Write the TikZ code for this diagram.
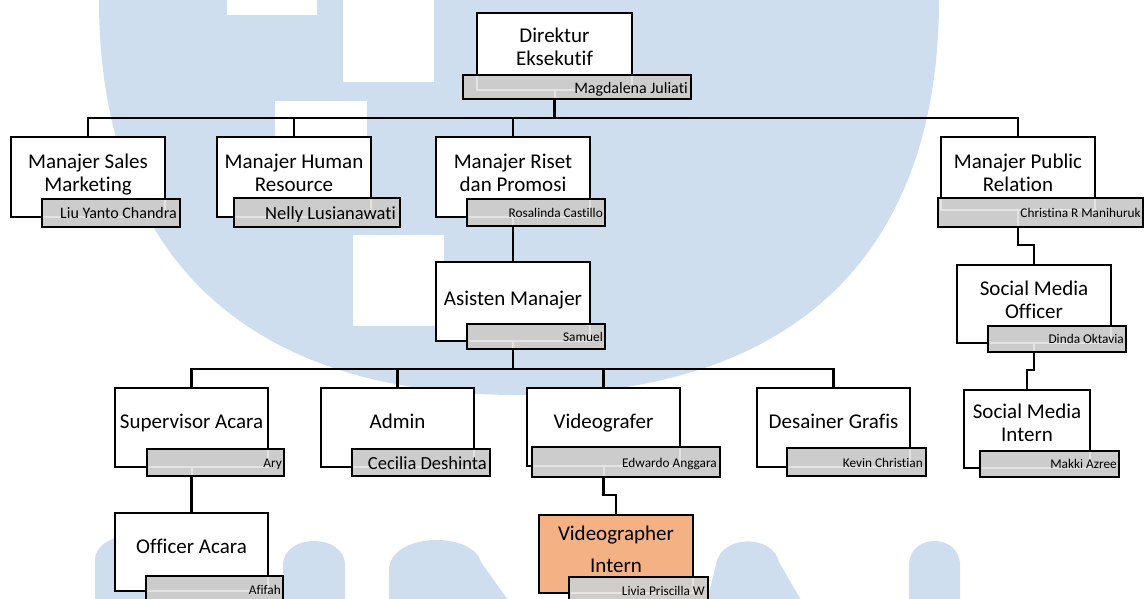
\documentclass[tikz,border=0pt]{standalone}
\usepackage{fontspec}
\setmainfont{Carlito}[Ligatures={NoCommon,NoRare,NoContextual}]
\definecolor{wm}{RGB}{207,222,238}
\definecolor{gbx}{RGB}{204,204,204}
\definecolor{gbxw}{RGB}{209,205,203}
\definecolor{org}{RGB}{244,177,131}
\tikzset{
  wbox/.style={draw=black, fill=white, line width=2.4pt, inner sep=0pt, outer sep=0pt},
  gbox/.style={draw=black, fill=gbx, line width=2.4pt, inner sep=0pt, outer sep=0pt},
  sz/.style 2 args={minimum width=#1pt, minimum height=#2pt},
  ttl/.style={font=\fontsize{21}{23}\selectfont, inner sep=0pt, anchor=base},
  nm/.style={font=\fontsize{13.3}{15}\selectfont, inner sep=0pt, anchor=base east},
  nmbig/.style={font=\fontsize{18.5}{20}\selectfont, inner sep=0pt, anchor=base east},
  nmmid/.style={font=\fontsize{16}{18}\selectfont, inner sep=0pt, anchor=base east},
  conn/.style={line width=2.4pt, line join=miter},
  ghl/.style={draw=white, draw opacity=0.45, line width=2pt}
}
\newcommand\ghost[2]{\begin{scope}\clip ([xshift=1.6pt,yshift=1.6pt]#1.south west) rectangle ([xshift=-1.6pt,yshift=-1.6pt]#1.north east); \draw[ghl] #2; \end{scope}}
\begin{document}
\begin{tikzpicture}[x=1pt,y=-1pt]
\useasboundingbox (0,0) rectangle (1147,598);
\clip (0,0) rectangle (1147,598);
% watermark
\fill[wm] (99,-2) -- (99,0) .. controls (99,230) and (219,395) .. (519,395) .. controls (819,395) and (939,230) .. (939,0) -- (939,-2) -- cycle;
\fill[white] (227,0) rectangle (317,15);
\fill[white] (343,0) rectangle (434,82);
\fill[white] (275,101) rectangle (367,205);
\fill[white] (353,235) rectangle (444,326);
\fill[wm] (95,600) -- (95,560) .. controls (95,528) and (175,524) .. (175,555) -- (175,600) -- cycle;
\fill[wm] (283,600) -- (283,565) .. controls (283,533) and (345,533) .. (345,565) -- (345,600) -- cycle;
\fill[wm] (389,600) -- (389,570) .. controls (389,533) and (472,530) .. (481,562) -- (508,600) -- cycle;
\fill[wm] (707,600) -- (716,565) .. controls (720,534) and (773,534) .. (779,562) -- (801,600) -- cycle;
\fill[wm] (909,600) -- (909,565) .. controls (909,533) and (960,533) .. (960,565) -- (960,600) -- cycle;

% coordinates
\coordinate (bus1) at (554.5,118);
\coordinate (bus2) at (513,369);
\coordinate (vElbow) at (603.5,495);
\coordinate (prElbow) at (1018,245);
\coordinate (smoElbow) at (1034,370);

% white boxes (named)
\path
  node[wbox, sz={155}{77}] (dir) at (554.5,51.5) {}
  node[wbox, sz={154}{80}] (sales) at (88,177) {}
  node[wbox, sz={154}{80}] (human) at (294,177) {}
  node[wbox, sz={154}{80}] (riset) at (513,177) {}
  node[wbox, sz={154}{73}] (pr) at (1018,173.5) {}
  node[wbox, sz={154}{79}] (asisten) at (513,301.5) {}
  node[wbox, sz={154}{78}] (smo) at (1034,304) {}
  node[wbox, sz={126}{78}] (smi) at (1027,429) {}
  node[wbox, sz={153}{79}] (sup) at (191.5,427.5) {}
  node[wbox, sz={153}{79}] (admin) at (397.5,427.5) {}
  node[wbox, sz={153}{78}] (video) at (603.5,427) {}
  node[wbox, sz={153}{79}] (des) at (833.5,427.5) {}
  node[wbox, sz={153}{78}] (officer) at (191.5,552) {}
  node[wbox, sz={154}{78}, fill=org] (intern) at (616,554) {};

% connectors
\draw[conn] (dir.south) -- (bus1);
\draw[conn] (sales.north) -- (sales.north |- bus1) -- (pr.north |- bus1) -- (pr.north);
\draw[conn] (human.north) -- (human.north |- bus1);
\draw[conn] (riset.north) -- (riset.north |- bus1);
\draw[conn] (riset.south) -- (asisten.north);
\draw[conn] (asisten.south) -- (bus2);
\draw[conn] (sup.north) -- (sup.north |- bus2) -- (des.north |- bus2) -- (des.north);
\draw[conn] (admin.north) -- (admin.north |- bus2);
\draw[conn] (video.north) -- (video.north |- bus2);
\draw[conn] (sup.south) -- (officer.north);
\draw[conn] (video.south) -- (vElbow) -| (intern.north);
\draw[conn] (pr.south) -- (prElbow) -| (smo.north);
\draw[conn] (smo.south) -- (smoElbow) -| (smi.north);

% redraw white boxes on top of connectors
\path
  node[wbox, sz={155}{77}] at (554.5,51.5) {}
  node[wbox, sz={154}{80}] at (88,177) {}
  node[wbox, sz={154}{80}] at (294,177) {}
  node[wbox, sz={154}{80}] at (513,177) {}
  node[wbox, sz={154}{73}] at (1018,173.5) {}
  node[wbox, sz={154}{79}] at (513,301.5) {}
  node[wbox, sz={154}{78}] at (1034,304) {}
  node[wbox, sz={126}{78}] at (1027,429) {}
  node[wbox, sz={153}{79}] at (191.5,427.5) {}
  node[wbox, sz={153}{79}] at (397.5,427.5) {}
  node[wbox, sz={153}{78}] at (603.5,427) {}
  node[wbox, sz={153}{79}] at (833.5,427.5) {}
  node[wbox, sz={153}{78}] at (191.5,552) {}
  node[wbox, sz={154}{78}, fill=org] at (616,554) {};

% titles
\node[ttl] (dirT1) at (554.5,42) {Direktur};
\node[ttl] (dirT2) at (554.5,65) {Eksekutif};
\node[ttl] (salesT1) at (88,168) {Manajer Sales};
\node[ttl] (salesT2) at (88,191) {Marketing};
\node[ttl] (humanT1) at (294,168) {Manajer Human};
\node[ttl] (humanT2) at (294,191) {Resource};
\node[ttl] (risetT1) at (513,168) {Manajer Riset};
\node[ttl] (risetT2) at (513,191) {dan Promosi};
\node[ttl] (prT1) at (1018,168) {Manajer Public};
\node[ttl] (prT2) at (1018,191) {Relation};
\node[ttl] (asistenT) at (513,305) {Asisten Manajer};
\node[ttl] (smoT1) at (1034,295) {Social Media};
\node[ttl] (smoT2) at (1034,318) {Officer};
\node[ttl] (smiT1) at (1027,418) {Social Media};
\node[ttl] (smiT2) at (1027,441) {Intern};
\node[ttl] (supT) at (191.5,428) {Supervisor Acara};
\node[ttl] (adminT) at (397.5,428) {Admin};
\node[ttl] (videoT) at (603.5,428) {Videografer};
\node[ttl] (desT) at (833.5,428) {Desainer Grafis};
\node[ttl] (officerT) at (191.5,553) {Officer Acara};
\node[ttl] (internT1) at (616,540) {Videographer};
\node[ttl] (internT2) at (616,572) {Intern};

% grey name boxes
\node[gbox, sz={228}{24}] (dirN) at (577,87) {};
\node[gbox, sz={138}{28}] (salesN) at (111,213) {};
\node[gbox, sz={166}{29}] (humanN) at (317,212.5) {};
\node[gbox, sz={138}{27}] (risetN) at (536,212.5) {};
\node[gbox, sz={205}{29}] (prN) at (1040.5,212.5) {};
\node[gbox, sz={138}{25}] (asistenN) at (536,336.5) {};
\node[gbox, sz={138}{26}] (smoN) at (1057,339) {};
\node[gbox, sz={139}{26}] (smiN) at (1049.5,464) {};
\node[gbox, sz={137}{27}] (supN) at (215.5,462.5) {};
\node[gbox, sz={138}{27}] (adminN) at (421,462.5) {};
\node[gbox, sz={188}{30}] (videoN) at (626,462) {};
\node[gbox, sz={139}{28}] (desN) at (856.5,462) {};
\node[gbox, sz={137}{34}] (officerN) at (214.5,593) {};
\node[gbox, sz={139}{35}, fill=gbxw] (internN) at (638.5,594.5) {};

% faint outlines seen through the grey boxes
\ghost{dirN}{(dir.south west) rectangle (dir.north east) (dir.south) -- (bus1)}
\ghost{salesN}{(sales.south west) rectangle (sales.north east)}
\ghost{humanN}{(human.south west) rectangle (human.north east)}
\ghost{risetN}{(riset.south west) rectangle (riset.north east) (riset.south) -- (asisten.north)}
\ghost{prN}{(pr.south west) rectangle (pr.north east) (pr.south) -- (prElbow)}
\ghost{asistenN}{(asisten.south west) rectangle (asisten.north east) (asisten.south) -- (bus2)}
\ghost{smoN}{(smo.south west) rectangle (smo.north east) (smo.south) -- (smoElbow)}
\ghost{smiN}{(smi.south west) rectangle (smi.north east)}
\ghost{supN}{(sup.south west) rectangle (sup.north east) (sup.south) -- (officer.north)}
\ghost{adminN}{(admin.south west) rectangle (admin.north east)}
\ghost{videoN}{(video.south west) rectangle (video.north east) (video.south) -- (vElbow)}
\ghost{desN}{(des.south west) rectangle (des.north east)}
\ghost{officerN}{(officer.south west) rectangle (officer.north east)}
\ghost{internN}{(intern.south west) rectangle (intern.north east)}

% names
\node[nmmid] (dirNm) at (688,93) {Magdalena Juliati};
\node[nmmid] (salesNm) at (177,218) {Liu Yanto Chandra};
\node[nmbig] (humanNm) at (396,219) {Nelly Lusianawati};
\node[nm] (risetNm) at (603,217) {Rosalinda Castillo};
\node[nm] (prNm) at (1141,217) {Christina R Manihuruk};
\node[nm] (asistenNm) at (603,341) {Samuel};
\node[nm] (smoNm) at (1124,343.5) {Dinda Oktavia};
\node[nm] (smiNm) at (1117,468.5) {Makki Azree};
\node[nm] (supNm) at (282,467) {Ary};
\node[nmbig] (adminNm) at (487,469) {Cecilia Deshinta};
\node[nm] (videoNm) at (717,467) {Edwardo Anggara};
\node[nm] (desNm) at (923,467) {Kevin Christian};
\node[nm] (officerNm) at (281,594) {Afifah};
\node[nm] (internNm) at (705,595) {Livia Priscilla W};
\end{tikzpicture}
\end{document}
